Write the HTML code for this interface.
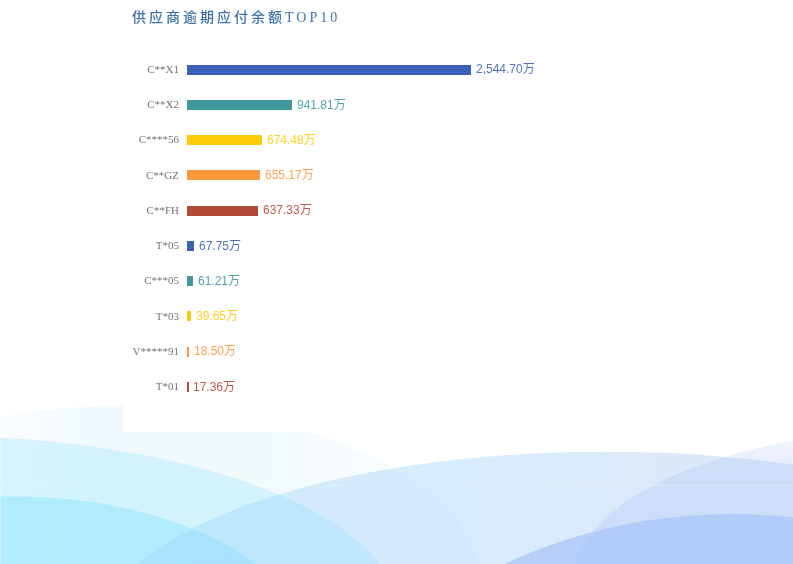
<!DOCTYPE html>
<html lang="zh-CN">
<head>
<meta charset="utf-8">
<title>供应商逾期应付余额TOP10</title>
<style>
  html, body { margin: 0; padding: 0; }
  body {
    width: 793px; height: 564px; overflow: hidden; position: relative;
    background: #ffffff;
    font-family: "Liberation Sans", "Noto Sans CJK SC", sans-serif;
  }
  #bg { position: absolute; left: 0; top: 0; width: 793px; height: 564px; display: block; }
  #panel {
    position: absolute; left: 123px; top: 0; width: 670px; height: 432px;
    background: #ffffff;
  }
  #title {
    position: absolute; left: 132.3px; top: 7.5px; margin: 0;
    font-family: "Liberation Serif", "Noto Sans CJK SC", serif;
    font-size: 14px; line-height: 20px; font-weight: 500;
    letter-spacing: 3px; color: #3f72a8; white-space: nowrap; will-change: transform; filter: blur(0.3px);
  }
  .row { position: absolute; left: 0; width: 793px; height: 20px; }
  .cat {
    position: absolute; left: 60px; width: 119px; top: -0.7px; height: 20px;
    text-align: right; line-height: 20px;
    font-family: "Liberation Serif", serif; font-size: 11px; color: #666666;
    white-space: nowrap; opacity: 0.92; will-change: transform; filter: blur(0.3px);
  }
  .bar { position: absolute; left: 186.6px; top: 5px; height: 10px; }
  .val {
    position: absolute; top: -0.2px; height: 20px; line-height: 20px;
    font-size: 12px; white-space: nowrap; opacity: 0.9; will-change: transform; filter: blur(0.3px);
  }
</style>
</head>
<body>
<svg id="bg" width="793" height="564" viewBox="0 0 793 564">
  <defs>
    <linearGradient id="gA" gradientUnits="userSpaceOnUse" x1="0" y1="0" x2="480" y2="0">
      <stop offset="0" stop-color="#e1f3fb" stop-opacity="0.15"/>
      <stop offset="0.2" stop-color="#e1f3fb" stop-opacity="0.5"/>
      <stop offset="0.55" stop-color="#e1f3fb" stop-opacity="0.45"/>
      <stop offset="0.8" stop-color="#e1f3fb" stop-opacity="0.25"/>
      <stop offset="1" stop-color="#e1f3fb" stop-opacity="0.18"/>
    </linearGradient>
    <linearGradient id="gD" gradientUnits="userSpaceOnUse" x1="140" y1="0" x2="660" y2="0">
      <stop offset="0" stop-color="#9bd2fa" stop-opacity="0.36"/>
      <stop offset="0.6" stop-color="#9bd0fa" stop-opacity="0.4"/>
      <stop offset="1" stop-color="#a8c8f5" stop-opacity="0.4"/>
    </linearGradient>
    <linearGradient id="gE" gradientUnits="userSpaceOnUse" x1="0" y1="438" x2="0" y2="472">
      <stop offset="0" stop-color="#b2c9f6" stop-opacity="0.18"/>
      <stop offset="1" stop-color="#b2c9f6" stop-opacity="0.36"/>
    </linearGradient>
  </defs>
  <ellipse cx="121.8" cy="584" rx="359.1" ry="177.9" fill="url(#gA)"/>
  <ellipse cx="-68.6" cy="612.5" rx="466" ry="176.8" fill="#beeffd" fill-opacity="0.6"/>
  <ellipse cx="13.7" cy="667.3" rx="305" ry="170.9" fill="#94e6fd" fill-opacity="0.55"/>
  <ellipse cx="605.3" cy="628.8" rx="501.3" ry="177.1" fill="url(#gD)"/>
  <ellipse cx="937.3" cy="584.9" rx="366.5" ry="157.2" fill="url(#gE)"/>
  <ellipse cx="732.1" cy="864.1" rx="441.7" ry="350" fill="#a8c6f8" fill-opacity="0.75"/>
  <rect x="0" y="484.8" width="793" height="1.6" fill="#ffffff" fill-opacity="0.22"/>
  <rect x="0" y="400" width="1.6" height="164" fill="#ffffff" fill-opacity="0.28"/>
  <rect x="4.4" y="400" width="1.2" height="164" fill="#ffffff" fill-opacity="0.14"/>
</svg>
<div id="panel"></div>
<h1 id="title">供应商逾期应付余额TOP10</h1>

<div class="row" style="top:59.50px"><span class="cat">C**X1</span><div class="bar" style="width:284.70px;background:#3a62b8"></div><span class="val" style="left:476.1px;color:#3a62b8">2,544.70万</span></div>
<div class="row" style="top:94.75px"><span class="cat">C**X2</span><div class="bar" style="width:105.37px;background:#3e989e"></div><span class="val" style="left:296.8px;color:#3e989e">941.81万</span></div>
<div class="row" style="top:130.00px"><span class="cat">C****56</span><div class="bar" style="width:75.46px;background:#ffcc0a"></div><span class="val" style="left:266.9px;color:#ffcc0a">674.48万</span></div>
<div class="row" style="top:165.25px"><span class="cat">C**GZ</span><div class="bar" style="width:73.30px;background:#fb9a3c"></div><span class="val" style="left:264.7px;color:#fb9a3c">655.17万</span></div>
<div class="row" style="top:200.50px"><span class="cat">C**FH</span><div class="bar" style="width:71.30px;background:#b24a38"></div><span class="val" style="left:262.7px;color:#b24a38">637.33万</span></div>
<div class="row" style="top:235.75px"><span class="cat">T*05</span><div class="bar" style="width:7.58px;background:#3a62b8"></div><span class="val" style="left:199.0px;color:#3a62b8">67.75万</span></div>
<div class="row" style="top:271.00px"><span class="cat">C***05</span><div class="bar" style="width:6.85px;background:#3e989e"></div><span class="val" style="left:198.2px;color:#3e989e">61.21万</span></div>
<div class="row" style="top:306.25px"><span class="cat">T*03</span><div class="bar" style="width:4.44px;background:#ffcc0a"></div><span class="val" style="left:195.8px;color:#ffcc0a">39.65万</span></div>
<div class="row" style="top:341.50px"><span class="cat">V*****91</span><div class="bar" style="width:2.07px;background:#fb9a3c"></div><span class="val" style="left:193.5px;color:#fb9a3c">18.50万</span></div>
<div class="row" style="top:376.75px"><span class="cat">T*01</span><div class="bar" style="width:1.94px;background:#b24a38"></div><span class="val" style="left:193.3px;color:#b24a38">17.36万</span></div>
</body>
</html>
